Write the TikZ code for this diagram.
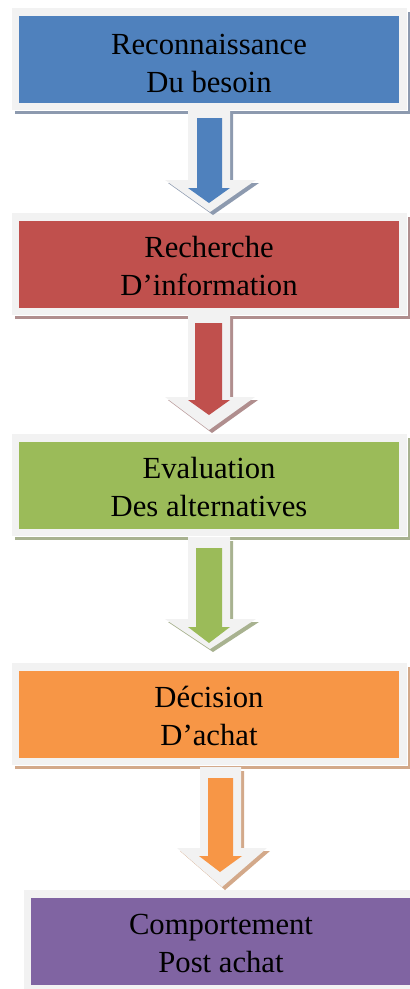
\documentclass[tikz,border=0pt]{standalone}
\usepackage{fontspec}
\setmainfont{Liberation Serif}
\definecolor{cblue}{HTML}{4F81BD}
\definecolor{cred}{HTML}{C0504D}
\definecolor{cgreen}{HTML}{9BBB59}
\definecolor{corange}{HTML}{F79646}
\definecolor{cpurple}{HTML}{8064A2}
\definecolor{framecol}{HTML}{F2F2F2}
\definecolor{sblue}{HTML}{8D9AAF}
\definecolor{sred}{HTML}{B08E8E}
\definecolor{sgreen}{HTML}{A8B290}
\definecolor{sorange}{HTML}{D3A98A}
\definecolor{spurple}{HTML}{A89BB8}
\pgfdeclarelayer{bg}
\pgfsetlayers{bg,main}
\newcommand{\stagetext}[3]{\raisebox{#1}[\height][\depth]{\begin{tabular}{@{}c@{}}#2\\#3\end{tabular}}}
\begin{document}
\begin{tikzpicture}[x=0.75pt,y=-0.75pt,
  stage/.style={fill=#1, inner sep=0pt, minimum width=285pt, minimum height=65.25pt,
    align=center, font=\fontsize{23}{28.5}\selectfont, text=black},
  framefill/.style={fill=framecol},
  arrowframe/.style={fill=framecol},
]
\useasboundingbox (0,0) rectangle (410,989);

% boxes
\node[stage=cblue]   (b1) at (209,59.5)  {\stagetext{-4.5pt}{Reconnaissance}{Du besoin}};
\node[stage=cred]    (b2) at (209,264.5) {\stagetext{-3.5pt}{Recherche}{D’information}};
\node[stage=cgreen]  (b3) at (209,485.5) {\stagetext{-3.5pt}{Evaluation}{Des alternatives}};
\node[stage=corange] (b4) at (209,714.5) {\stagetext{-3.5pt}{Décision}{D’achat}};
\node[stage=cpurple] (b5) at (221,941.5) {\stagetext{-3pt}{Comportement}{Post achat}};

\begin{pgfonlayer}{bg}
  \foreach \b/\s in {b1/sblue,b2/sred,b3/sgreen,b4/sorange,b5/spurple}{
    \fill[\s] ([shift={(-4,-4)}]\b.north west) rectangle ([shift={(11,11)}]\b.south east);
    \fill[white] ([shift={(-7,-8)}]\b.north west) rectangle ([shift={(9,8)}]\b.south east);
    \fill[framefill] ([shift={(-7,-8)}]\b.north west) rectangle ([shift={(8,7)}]\b.south east);
  }
\end{pgfonlayer}

% arrow 1
\fill[sblue, shift={(3,3)}] (188,111) -- (230,111) -- (230,180) -- (256,180) -- (210,212) -- (165,180) -- (188,180) -- cycle;
\fill[arrowframe] (188,110) -- (230,110) -- (230,180) -- (256,180) -- (210,212) -- (165,180) -- (188,180) -- cycle;
\fill[cblue] (197,118) -- (222,118) -- (222,188) -- (230,188) -- (209,203) -- (188,188) -- (197,188) -- cycle;

% arrow 2
\fill[sred, shift={(3,3)}] (188,316) -- (230,316) -- (230,397) -- (255,397) -- (209,430) -- (165,397) -- (188,397) -- cycle;
\fill[arrowframe] (188,315) -- (230,315) -- (230,397) -- (255,397) -- (209,430) -- (165,397) -- (188,397) -- cycle;
\fill[cred] (195,323) -- (222,323) -- (222,400) -- (230,400) -- (209,415) -- (188,400) -- (195,400) -- cycle;

% arrow 3
\fill[sgreen, shift={(3,3)}] (188,538) -- (230,538) -- (230,619) -- (256,619) -- (210,649) -- (165,619) -- (188,619) -- cycle;
\fill[arrowframe] (188,537) -- (230,537) -- (230,619) -- (256,619) -- (210,649) -- (165,619) -- (188,619) -- cycle;
\fill[cgreen] (196,548) -- (222,548) -- (222,627) -- (230,627) -- (209,643) -- (188,627) -- (196,627) -- cycle;

% arrow 4
\fill[sorange, shift={(3,3)}] (200,768) -- (241,768) -- (241,848) -- (267,848) -- (222,887) -- (177,848) -- (200,848) -- cycle;
\fill[arrowframe] (200,767) -- (241,767) -- (241,848) -- (267,848) -- (222,887) -- (177,848) -- (200,848) -- cycle;
\fill[corange] (208,778) -- (233,778) -- (233,856) -- (242,856) -- (220,872) -- (199,856) -- (208,856) -- cycle;
\end{tikzpicture}
\end{document}
